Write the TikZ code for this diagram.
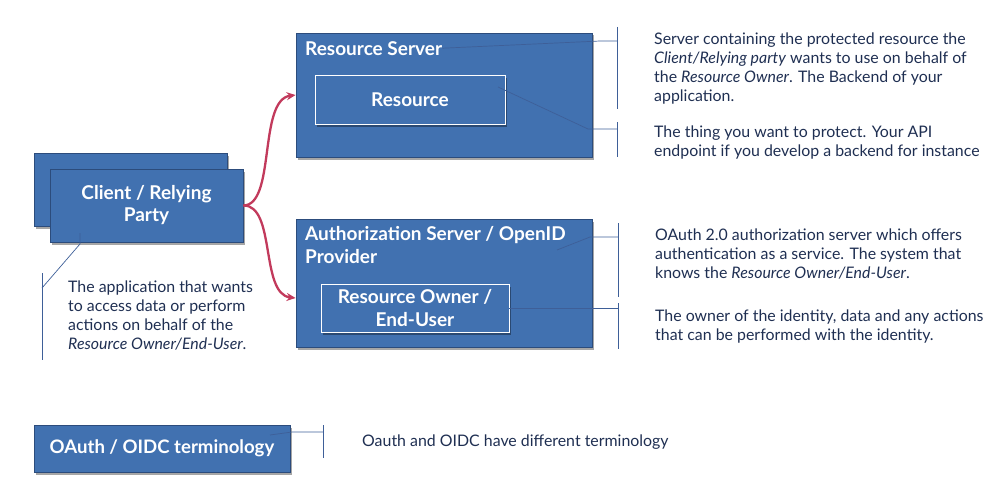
\documentclass[tikz,border=0pt]{standalone}
\usepackage{fontspec}
\setmainfont{Lato}
\usepackage{tikz}
\usetikzlibrary{arrows.meta,positioning,shadows}
\definecolor{cbox}{HTML}{4171B0}
\definecolor{cedge}{HTML}{2C4C7C}
\definecolor{cflow}{HTML}{C23A5C}
\definecolor{ctext}{HTML}{1F2F52}
\definecolor{cnote}{HTML}{3E5F98}

\begin{document}
\begin{tikzpicture}[x=1pt,y=-1pt,
    box/.style={draw=cedge,fill=cbox,line width=0.8pt,text=white,
      font=\bfseries\fontsize{19}{22}\selectfont,align=center,
      drop shadow={shadow xshift=2pt,shadow yshift=-2.5pt,fill=black,opacity=0.35}},
    inbox/.style={box,draw=white,line width=0.9pt},
    lbl/.style={anchor=north west,inner sep=0pt,text=white,align=left,
      font=\bfseries\fontsize{19}{23}\selectfont},
    desc/.style={anchor=north west,inner sep=0pt,text=ctext,align=left,
      font=\fontsize{15.9}{19}\selectfont},
    note/.style={draw=cnote,line width=0.7pt},
    flow/.style={draw=cflow,line width=2.3pt,-{Stealth[length=9pt,width=8pt]}}]
  \useasboundingbox (0,0) rectangle (1006,503);

  % client
  \node[box,minimum width=193pt,minimum height=73pt] (clientback) at (130.5,189.5) {};
  \node[box,minimum width=193pt,minimum height=73pt] (client) at (146.5,205.5) {Client / Relying\\Party};

  % servers
  \node[box,minimum width=296pt,minimum height=124pt] (rs) at (444,95) {};
  \node[lbl] (rslbl) at (305,41) {Resource Server};
  \node[inbox,minimum width=190pt,minimum height=49pt] (res) at (410,99.5) {Resource};

  \node[box,minimum width=296pt,minimum height=128pt] (as) at (444,283) {};
  \node[lbl] (aslbl) at (305,226) {Authorization Server / OpenID\\Provider};
  \node[inbox,minimum width=188pt,minimum height=48pt,font=\bfseries\fontsize{19}{23}\selectfont] (ro) at (415,308.5) {Resource Owner /\\End-User};

  \node[box,minimum width=256pt,minimum height=47pt,font=\bfseries\fontsize{18.6}{22}\selectfont] (term) at (162,448.5) {OAuth / OIDC terminology};

  % flows
  \draw[flow] (client.east) .. controls (276,205) and (258,100) .. (rs.west);
  \draw[flow] (client.east) .. controls (276,205) and (260,294) .. ([yshift=-15pt]as.west);

  % descriptions
  \node[desc] (rsdesc) at (654,33) {Server containing the protected resource the\\
    \textit{Client/Relying party} wants to use on behalf of\\
    the \textit{Resource Owner}. The Backend of your\\application.};
  \node[desc] (resdesc) at (654,126) {The thing you want to protect. Your API\\
    endpoint if you develop a backend for instance};
  \node[desc] (asdesc) at (655,229) {OAuth 2.0 authorization server which offers\\
    authentication as a service. The system that\\
    knows the \textit{Resource Owner/End-User}.};
  \node[desc] (rodesc) at (655,310) {The owner of the identity, data and any actions\\
    that can be performed with the identity.};
  \node[desc] (clientdesc) at (68,281) {The application that wants\\
    to access data or perform\\actions on behalf of the\\
    \textit{Resource Owner/End-User}.};
  \node[desc] (termdesc) at (362,435) {Oauth and OIDC have different terminology};

  % callouts
  \coordinate (robr) at (618,310);
  \draw[note] (617,27) -- (617,109);
  \draw[note] (rslbl.east) -- (600,41) -- (617,41);
  \draw[note] (617,122) -- (617,157);
  \draw[note] (498,87) -- (588,129) -- (617,129);
  \draw[note] (618,223) -- (618,297);
  \draw[note] (557,250) -- (590,237) -- (618,237);
  \draw[note] (618,303) -- (618,349);
  \draw[note] (ro.east) -- (ro.east -| robr);
  \draw[note] (42,273) -- (42,360);
  \draw[note] (80,233) -- (80,244) -- (42,288);
  \draw[note] (323,425) -- (323,458);
  \draw[note] (270,435) -- (292,432) -- (323,432);
\end{tikzpicture}
\end{document}
